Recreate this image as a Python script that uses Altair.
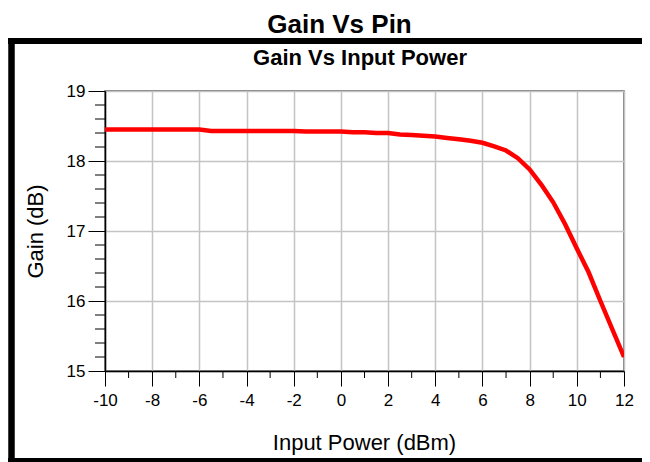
import altair as alt
import pandas as pd

# ---- data ----
pin = [-10, -9.5, -9, -8.5, -8, -7.5, -7, -6.5, -6, -5.5, -5, -4.5, -4, -3.5, -3, -2.5, -2,
       -1.5, -1, -0.5, 0, 0.5, 1, 1.5, 2, 2.5, 3, 3.5, 4, 4.5, 5, 5.5, 6, 6.5, 7, 7.5, 8,
       8.5, 9, 9.5, 10, 10.5, 11, 11.5, 12]
gain = [18.45, 18.45, 18.45, 18.45, 18.45, 18.45, 18.45, 18.45, 18.45, 18.43, 18.43, 18.43,
        18.43, 18.43, 18.43, 18.43, 18.43, 18.42, 18.42, 18.42, 18.42, 18.41, 18.41, 18.40,
        18.40, 18.38, 18.37, 18.36, 18.35, 18.33, 18.31, 18.29, 18.26, 18.21, 18.15, 18.04,
        17.88, 17.66, 17.41, 17.10, 16.75, 16.41, 16.00, 15.60, 15.20]

x_major = [-10, -8, -6, -4, -2, 0, 2, 4, 6, 8, 10, 12]
x_minor = [-9, -7, -5, -3, -1, 1, 3, 5, 7, 9, 11]
y_major = [15, 16, 17, 18, 19]
y_minor = [15.2, 15.4, 15.6, 15.8, 16.2, 16.4, 16.6, 16.8, 17.2, 17.4, 17.6, 17.8,
           18.2, 18.4, 18.6, 18.8]

outer_title = "Gain Vs Pin"
inner_title = "Gain Vs Input Power"
x_title = "Input Power (dBm)"
y_title = "Gain (dB)"

FONT = "Liberation Sans"
W, H = 519, 280

df = pd.DataFrame({"pin": pin, "gain": gain})
xscale = alt.Scale(domain=[-10, 12], nice=False, zero=False)
yscale = alt.Scale(domain=[15, 19], nice=False, zero=False)

x_axis = alt.Axis(
    values=x_major, labelExpr="'' + datum.value", title=x_title,
    labelFont=FONT, labelFontSize=17, labelColor="black", labelPadding=6, labelFlush=False,
    tickSize=15, tickColor="black", tickWidth=1,
    domainColor="black", domainWidth=1.5,
    grid=True, gridColor="#c4c4c4", gridWidth=1.5,
    titleFont=FONT, titleFontSize=22, titleFontWeight="normal", titleColor="black",
    titleX=259, titleY=78, titleAlign="center", titleBaseline="alphabetic",
)
y_axis = alt.Axis(
    values=y_major, labelExpr="'' + datum.value", title=y_title,
    labelFont=FONT, labelFontSize=17, labelColor="black", labelPadding=3, labelFlush=False,
    tickSize=17, tickColor="black", tickWidth=1,
    domainColor="black", domainWidth=1.5,
    grid=True, gridColor="#c4c4c4", gridWidth=1.5,
    titleFont=FONT, titleFontSize=22, titleFontWeight="normal", titleColor="black",
    titleAngle=-90, titleX=-63, titleY=140, titleAlign="center", titleBaseline="alphabetic",
)

line = alt.Chart(df).mark_line(color="#ff0000", strokeWidth=4.5, clip=True).encode(
    x=alt.X("pin:Q", scale=xscale, axis=x_axis),
    y=alt.Y("gain:Q", scale=yscale, axis=y_axis),
)

xminor = alt.Chart(pd.DataFrame({"pin": x_minor})).mark_rule(color="black", strokeWidth=1).encode(
    x=alt.X("pin:Q", scale=xscale),
    y=alt.value(H),
    y2=alt.value(H + 7),
)
yminor = alt.Chart(pd.DataFrame({"gain": y_minor})).mark_rule(color="black", strokeWidth=1).encode(
    y=alt.Y("gain:Q", scale=yscale),
    x=alt.value(-10),
    x2=alt.value(0),
)

one = alt.Data(values=[{}])
# frame around the inner chart (left, top and bottom edges; right edge lies off the page)
frame_top = alt.Chart(one).mark_rule(color="black", strokeWidth=6).encode(
    x=alt.value(-97), x2=alt.value(537), y=alt.value(-50))
frame_bottom = alt.Chart(one).mark_rule(color="black", strokeWidth=6).encode(
    x=alt.value(-97), x2=alt.value(537), y=alt.value(370))
frame_left = alt.Chart(one).mark_rule(color="black", strokeWidth=6.5).encode(
    x=alt.value(-93.5), y=alt.value(-53), y2=alt.value(373))

t1 = alt.Chart(one).mark_text(
    text=outer_title, font=FONT, fontSize=26, fontWeight="bold", color="black",
    align="center", baseline="alphabetic"
).encode(x=alt.value(234.5), y=alt.value(-58))
t2 = alt.Chart(one).mark_text(
    text=inner_title, font=FONT, fontSize=22, fontWeight="bold", color="black",
    align="center", baseline="alphabetic"
).encode(x=alt.value(255), y=alt.value(-26))

chart = alt.layer(frame_top, frame_bottom, frame_left, t1, t2, xminor, yminor, line).properties(
    width=W, height=H,
    padding={"left": 97, "top": 83, "right": 18, "bottom": 91},
    autosize=alt.AutoSizeParams(type="none"),
    background="white",
).configure_view(stroke="#555555", strokeWidth=1.5)

chart.save("out.html", embed_options={"renderer": "svg", "actions": False})
